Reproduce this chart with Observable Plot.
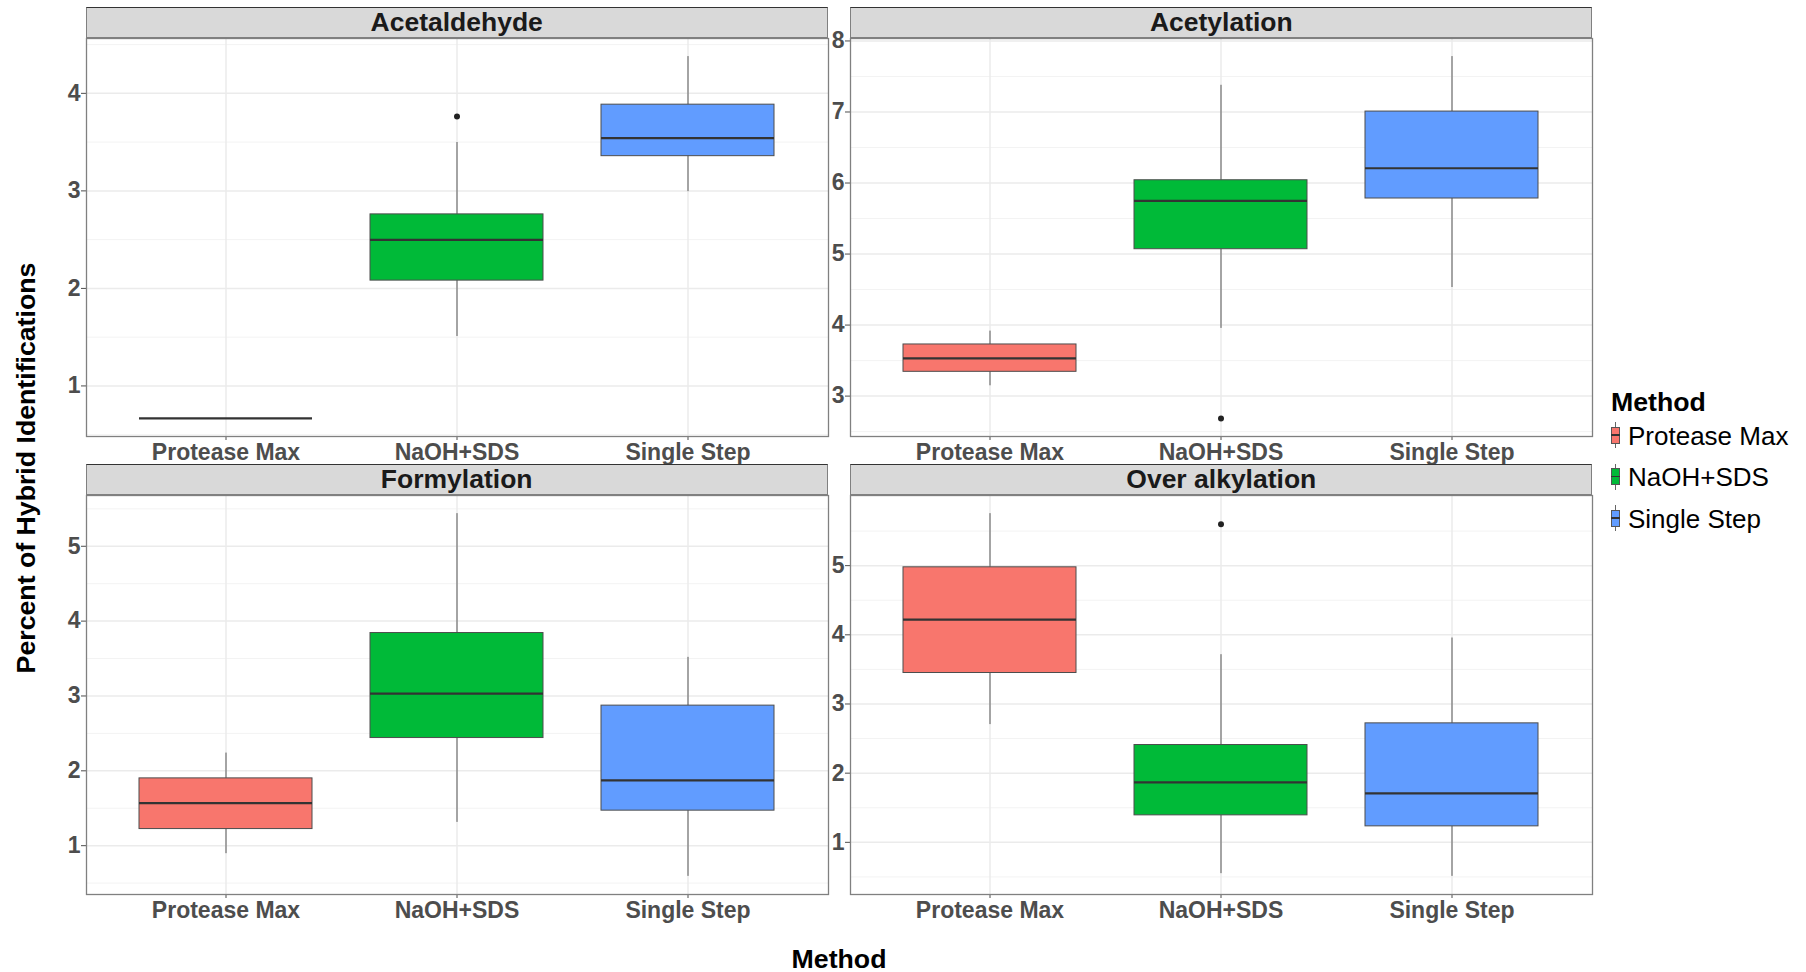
<!DOCTYPE html>
<html>
<head>
<meta charset="utf-8">
<script src="https://cdn.jsdelivr.net/npm/d3@7"></script>
<script src="https://cdn.jsdelivr.net/npm/@observablehq/plot@0.6"></script>
<style>
html,body{margin:0;padding:0;background:#fff;}
#chart{position:relative;width:1806px;height:972px;font-family:"Liberation Sans",Arial,sans-serif;overflow:hidden;background:#fff;}
.strip{position:absolute;box-sizing:border-box;background:#D9D9D9;border:1.3px solid #808080;border-top-color:#333;display:flex;align-items:center;justify-content:center;font-weight:bold;font-size:26.5px;line-height:1;color:#1A1A1A;white-space:nowrap;}
.ttl{position:absolute;font-weight:bold;font-size:26.7px;line-height:1;color:#000;white-space:nowrap;}
.lab{position:absolute;font-size:26px;line-height:1;color:#000;white-space:nowrap;}
.blk{position:absolute;box-sizing:border-box;}
</style>
</head>
<body>
<div id="chart"></div>
<script>
// ---- data ----
const methods = ["Protease Max", "NaOH+SDS", "Single Step"];
const methodColors = ["#F8766D", "#00BA38", "#619CFF"];
const modifications = ["Acetaldehyde", "Acetylation", "Formylation", "Over alkylation"];
const whiskerLow  = [[0.667, 1.507, 2.992], [3.145, 3.953, 4.529], [0.893, 1.311, 0.590], [2.702, 0.547, 0.508]];
const quartile1   = [[0.667, 2.080, 3.356], [3.342, 5.068, 5.782], [1.222, 2.438, 1.468], [3.448, 1.390, 1.231]];
const medians     = [[0.667, 2.498, 3.541], [3.530, 5.748, 6.208], [1.569, 3.031, 1.873], [4.220, 1.867, 1.708]];
const quartile3   = [[0.667, 2.759, 3.884], [3.727, 6.039, 7.006], [1.899, 3.841, 2.871], [4.976, 2.407, 2.720]];
const whiskerHigh = [[0.667, 3.496, 4.377], [3.915, 7.376, 7.780], [2.237, 5.436, 3.516], [5.752, 3.713, 3.954]];
const outlierModification = ["Acetaldehyde", "Acetylation", "Over alkylation"];
const outlierMethod = ["NaOH+SDS", "NaOH+SDS", "NaOH+SDS"];
const outlierValue = [3.763, 2.686, 5.597];
const yTicks = [[1, 2, 3, 4], [3, 4, 5, 6, 7, 8], [1, 2, 3, 4, 5], [1, 2, 3, 4, 5]];
const yTitle = "Percent of Hybrid Identifications";
const xTitle = "Method";
const legendTitle = "Method";

// ---- layout ----
const panelW = 742;
const colLeft = [85.7, 850.3];
const stripTop = [7.3, 464];
const stripH = 30.7;
const plotTop = [38, 494.5];
const plotH = [398, 399];
const mL = 70, mR = 2, mT = 1, mB = 40;

const chart = document.getElementById("chart");

modifications.forEach((mod, k) => {
  const col = k % 2, row = Math.floor(k / 2);
  const rows = methods.map((m, j) => ({
    method: m, lo: whiskerLow[k][j], q1: quartile1[k][j], med: medians[k][j],
    q3: quartile3[k][j], hi: whiskerHigh[k][j]
  }));
  const outs = outlierValue
    .map((v, i) => ({method: outlierMethod[i], value: v, mod: outlierModification[i]}))
    .filter(d => d.mod === mod);
  const vals = [...rows.flatMap(d => [d.lo, d.hi]), ...outs.map(d => d.value)];
  const [mn, mx] = d3.extent(vals);
  const pad = (mx - mn) * 0.05;
  const domain = [mn - pad, mx + pad];
  const ticks = yTicks[k];
  const minor = [...ticks.map(t => t - 0.5), ticks[ticks.length - 1] + 0.5]
    .filter(v => v > domain[0] && v < domain[1]);
  const H = plotH[row];

  const svg = Plot.plot({
    width: mL + panelW + mR,
    height: mT + H + mB,
    marginLeft: mL, marginRight: mR, marginTop: mT, marginBottom: mB,
    style: {
      fontFamily: '"Liberation Sans", Arial, sans-serif',
      fontSize: "23px", fontWeight: "bold", color: "#4D4D4D",
      background: "transparent", overflow: "visible"
    },
    x: {type: "band", domain: methods, paddingInner: 0.25, paddingOuter: 0.225,
        tickSize: 4, tickPadding: 3, label: null},
    y: {domain, ticks, tickFormat: d3.format("d"), tickSize: 5, tickPadding: 1, label: null},
    color: {domain: methods, range: methodColors},
    marks: [
      Plot.ruleY(minor, {stroke: "#F3F3F3", strokeWidth: 1}),
      Plot.ruleY(ticks, {stroke: "#EBEBEB", strokeWidth: 1.5}),
      Plot.ruleX(methods, {x: d => d, stroke: "#EBEBEB", strokeWidth: 1.5}),
      Plot.ruleX(rows, {x: "method", y1: "q3", y2: "hi", stroke: "#595959", strokeWidth: 1}),
      Plot.ruleX(rows, {x: "method", y1: "lo", y2: "q1", stroke: "#595959", strokeWidth: 1}),
      Plot.barY(rows, {x: "method", y1: "q1", y2: "q3", fill: "method", stroke: "#4D4D4D", strokeWidth: 1}),
      Plot.tickY(rows, {x: "method", y: "med", stroke: "#333", strokeWidth: 2.2}),
      Plot.dot(outs, {x: "method", y: "value", r: 3, fill: "#222", stroke: "none"}),
      Plot.frame({stroke: "#808080", strokeWidth: 1.3})
    ]
  });
  svg.style.position = "absolute";
  svg.style.left = (colLeft[col] - mL) + "px";
  svg.style.top = (plotTop[row] - mT) + "px";
  chart.appendChild(svg);

  const strip = document.createElement("div");
  strip.className = "strip";
  strip.style.left = colLeft[col] + "px";
  strip.style.top = stripTop[row] + "px";
  strip.style.width = panelW + "px";
  strip.style.height = stripH + "px";
  strip.textContent = mod;
  chart.appendChild(strip);
});

// axis titles
const yt = document.createElement("div");
yt.className = "ttl";
yt.style.left = "26px"; yt.style.top = "468px";
yt.style.transform = "translate(-50%,-50%) rotate(-90deg)";
yt.textContent = yTitle;
chart.appendChild(yt);

const xt = document.createElement("div");
xt.className = "ttl";
xt.style.lineHeight = "0.9";
xt.style.left = "839px"; xt.style.top = "946.5px";
xt.style.transform = "translateX(-50%)";
xt.textContent = xTitle;
chart.appendChild(xt);

// legend
const lt = document.createElement("div");
lt.className = "ttl";
lt.style.left = "1611px"; lt.style.top = "388.5px";
lt.textContent = legendTitle;
chart.appendChild(lt);

methods.forEach((m, j) => {
  const cy = 435 + j * 41.5;
  const wh = document.createElement("div");
  wh.className = "blk";
  Object.assign(wh.style, {left: "1615px", top: (cy - 13) + "px", width: "1px", height: "26px", background: "#666"});
  chart.appendChild(wh);
  const bx = document.createElement("div");
  bx.className = "blk";
  Object.assign(bx.style, {left: "1611px", top: (cy - 8.5) + "px", width: "9px", height: "17px",
    background: methodColors[j], border: "0.8px solid #555"});
  chart.appendChild(bx);
  const md = document.createElement("div");
  md.className = "blk";
  Object.assign(md.style, {left: "1611px", top: (cy - 0.75) + "px", width: "9px", height: "1.5px", background: "#333"});
  chart.appendChild(md);
  const lb = document.createElement("div");
  lb.className = "lab";
  lb.style.left = "1628px"; lb.style.top = (cy - 12.5) + "px";
  lb.textContent = m;
  chart.appendChild(lb);
});
</script>
</body>
</html>
